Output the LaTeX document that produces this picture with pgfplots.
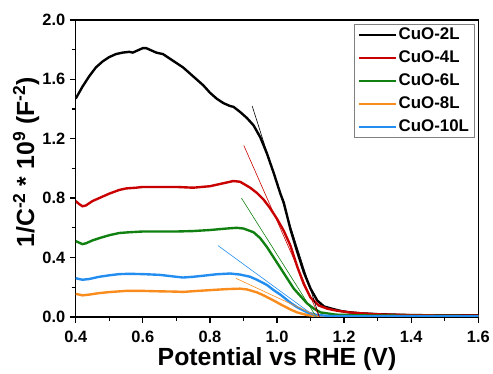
\documentclass[border=0pt]{standalone}
\usepackage{fontspec}
\setmainfont{Liberation Sans}
\usepackage{pgfplots}
\pgfplotsset{compat=1.18}
\definecolor{cblack}{RGB}{0,0,0}
\definecolor{cred}{RGB}{200,0,0}
\definecolor{cgreen}{RGB}{16,128,16}
\definecolor{corange}{RGB}{250,140,30}
\definecolor{cblue}{RGB}{35,142,240}
\begin{document}
\begin{tikzpicture}
\begin{axis}[
  scale only axis,
  width=404bp, height=298bp,
  xmin=0.4, xmax=1.6, ymin=0, ymax=2.0,
  xtick={0.4,0.6,...,1.6},
  ytick={0,0.4,...,2.0},
  minor tick num=1,
  tick pos=left,
  tick align=outside,
  major tick length=6bp,
  minor tick length=4bp,
  every tick/.style={line width=1.3pt, black},
  axis line style={line width=1.5pt},
  /pgf/number format/assume math mode=true,
  /pgf/number format/fixed,
  /pgf/number format/fixed zerofill,
  /pgf/number format/precision=1,
  ticklabel style={font=\fontsize{16.5}{19}\selectfont\bfseries},
  xticklabel style={yshift=-5bp},
  yticklabel style={xshift=-1bp},
  xlabel={Potential vs RHE (V)},
  ylabel={1/C\textsuperscript{-2} * 10\textsuperscript{9} (F\textsuperscript{-2})},
  label style={font=\fontsize{25}{30}\selectfont\bfseries},
  xlabel style={at={(axis description cs:0.5,-0.142)}, anchor=center},
  ylabel style={at={(axis description cs:-0.123,0.52)}, anchor=center},
  legend style={at={(rel axis cs:0.99,0.987)}, anchor=north east,
    draw=gray, line width=0.7pt, font=\fontsize{17}{20}\selectfont\bfseries,
    inner xsep=3bp, inner ysep=2bp, row sep=5.8bp},
  legend cell align=left,
  legend image code/.code={\draw[#1, line width=2.1pt] (0bp,0bp) -- (37bp,0bp);},
  every axis plot/.append style={line width=2.4pt},
]
% CuO-2L
\addplot[cblack] coordinates {(0.40,1.47)(0.42,1.55)(0.44,1.62)(0.46,1.68)(0.48,1.72)(0.50,1.75)(0.52,1.77)(0.54,1.78)(0.56,1.785)(0.57,1.78)(0.58,1.79)(0.60,1.81)(0.61,1.81)(0.62,1.80)(0.64,1.78)(0.66,1.77)(0.68,1.74)(0.70,1.71)(0.72,1.68)(0.74,1.64)(0.76,1.60)(0.78,1.56)(0.80,1.51)(0.82,1.47)(0.84,1.44)(0.86,1.42)(0.87,1.415)(0.89,1.38)(0.91,1.34)(0.93,1.29)(0.95,1.21)(0.97,1.10)(0.99,0.97)(1.01,0.83)(1.02,0.77)(1.04,0.59)(1.06,0.44)(1.07,0.37)(1.08,0.30)(1.10,0.19)(1.12,0.11)(1.14,0.07)(1.165,0.054)(1.19,0.04)(1.215,0.031)(1.25,0.024)(1.30,0.018)(1.40,0.012)(1.50,0.01)(1.60,0.01)};
\addlegendentry{CuO-2L}
% CuO-4L
\addplot[cred] coordinates {(0.40,0.78)(0.41,0.76)(0.42,0.745)(0.43,0.75)(0.45,0.78)(0.47,0.80)(0.50,0.83)(0.53,0.855)(0.55,0.865)(0.58,0.87)(0.60,0.875)(0.65,0.875)(0.70,0.875)(0.75,0.87)(0.80,0.88)(0.83,0.895)(0.85,0.905)(0.87,0.915)(0.89,0.91)(0.92,0.87)(0.94,0.835)(0.96,0.79)(0.98,0.73)(1.00,0.66)(1.02,0.58)(1.04,0.48)(1.06,0.34)(1.07,0.28)(1.08,0.22)(1.10,0.13)(1.125,0.076)(1.15,0.055)(1.175,0.043)(1.215,0.03)(1.25,0.024)(1.30,0.017)(1.40,0.011)(1.50,0.009)(1.60,0.009)};
\addlegendentry{CuO-4L}
% CuO-6L
\addplot[cgreen] coordinates {(0.40,0.51)(0.41,0.50)(0.42,0.49)(0.43,0.495)(0.45,0.515)(0.47,0.53)(0.50,0.55)(0.53,0.565)(0.56,0.57)(0.60,0.575)(0.65,0.575)(0.70,0.575)(0.75,0.578)(0.80,0.585)(0.85,0.595)(0.88,0.60)(0.90,0.595)(0.93,0.57)(0.95,0.53)(0.97,0.47)(0.99,0.40)(1.01,0.33)(1.03,0.26)(1.05,0.19)(1.07,0.14)(1.09,0.09)(1.11,0.055)(1.13,0.03)(1.175,0.015)(1.25,0.01)(1.40,0.007)(1.60,0.006)};
\addlegendentry{CuO-6L}
% CuO-8L
\addplot[corange] coordinates {(0.40,0.155)(0.41,0.15)(0.42,0.145)(0.44,0.15)(0.47,0.16)(0.50,0.167)(0.55,0.175)(0.60,0.175)(0.65,0.172)(0.70,0.17)(0.72,0.168)(0.75,0.173)(0.80,0.18)(0.85,0.187)(0.89,0.19)(0.91,0.185)(0.94,0.165)(0.96,0.145)(0.99,0.11)(1.01,0.085)(1.04,0.05)(1.06,0.03)(1.09,0.012)(1.12,0.005)(1.20,0.003)(1.40,0.002)(1.60,0.002)};
\addlegendentry{CuO-8L}
% CuO-10L
\addplot[cblue] coordinates {(0.40,0.26)(0.41,0.255)(0.42,0.25)(0.44,0.255)(0.47,0.27)(0.50,0.28)(0.53,0.288)(0.56,0.29)(0.60,0.288)(0.65,0.283)(0.70,0.27)(0.72,0.265)(0.75,0.27)(0.78,0.277)(0.82,0.287)(0.86,0.292)(0.89,0.285)(0.92,0.27)(0.94,0.25)(0.97,0.215)(0.99,0.18)(1.01,0.15)(1.04,0.095)(1.06,0.065)(1.09,0.03)(1.12,0.012)(1.16,0.006)(1.25,0.004)(1.40,0.003)(1.60,0.003)};
\addlegendentry{CuO-10L}
% tangent lines
\addplot[cblack, line width=0.6pt, forget plot] coordinates {(0.926,1.42)(1.126,0.0)};
\addplot[cred, line width=0.6pt, forget plot] coordinates {(0.901,1.155)(1.126,0.0)};
\addplot[cgreen, line width=0.6pt, forget plot] coordinates {(0.894,0.80)(1.117,0.0)};
\addplot[cblue, line width=0.6pt, forget plot] coordinates {(0.824,0.48)(1.115,0.0)};
\addplot[corange, line width=0.6pt, forget plot] coordinates {(0.877,0.26)(1.125,0.0)};
\end{axis}
\path ([xshift=-76bp,yshift=-57bp]current axis.south west) rectangle ([xshift=13bp,yshift=20bp]current axis.north east);
\end{tikzpicture}
\end{document}
